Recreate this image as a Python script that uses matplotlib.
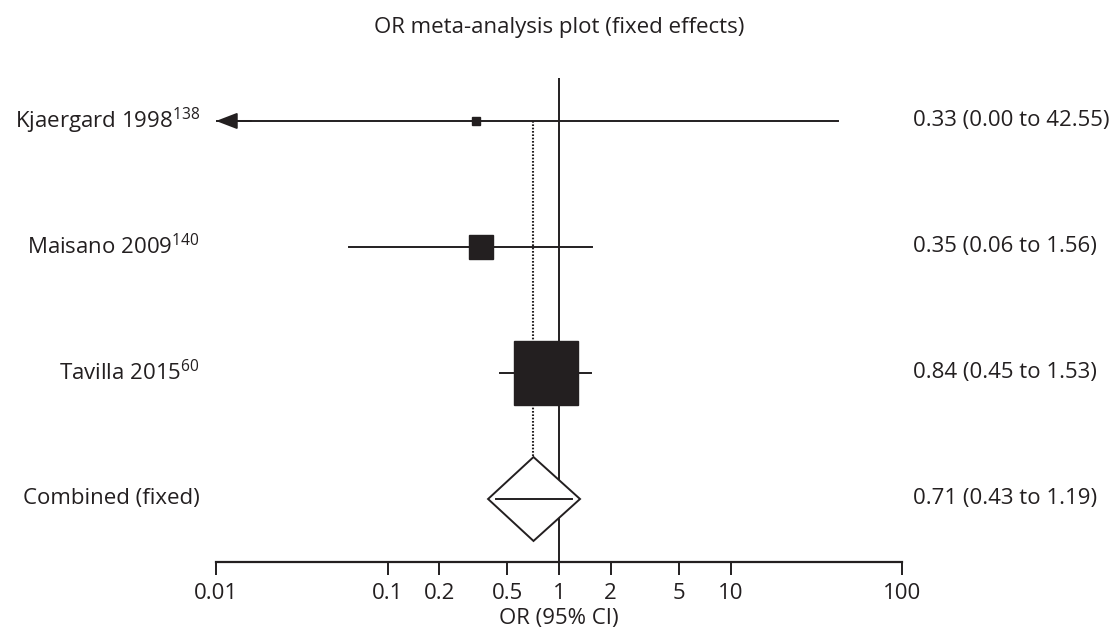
import matplotlib
matplotlib.use("Agg")
import matplotlib.pyplot as plt
import matplotlib.transforms as mtransforms
import numpy as np

plt.rcParams['font.family'] = ['Open Sans', 'DejaVu Sans']
plt.rcParams['mathtext.default'] = 'regular'

# study data
studies = ["Kjaergard 1998$^{138}$", "Maisano 2009$^{140}$", "Tavilla 2015$^{60}$"]
odds = [0.33, 0.35, 0.84]
lower = [0.00, 0.06, 0.45]
upper = [42.55, 1.56, 1.53]
box_px = [8, 24, 64]           # square size (weight)
combined_label = "Combined (fixed)"
combined = [0.71, 0.43, 1.19]
ticks = [0.01, 0.1, 0.2, 0.5, 1, 2, 5, 10, 100]
tick_labels = ["0.01", "0.1", "0.2", "0.5", "1", "2", "5", "10", "100"]

ink = '#231f20'
fs = 16
W, H = 1116, 637
fig = plt.figure(figsize=(W / 100, H / 100), dpi=100)
ax = fig.add_axes([216 / W, (H - 562) / H, (902 - 216) / W, (562 - 78) / H])
ax.set_xscale('log')
xmin, xmax = 0.01, 100
ax.set_xlim(xmin, xmax)
ax.set_ylim(0.5, 4.341)

rows = np.arange(len(studies) + 1, 1, -1)   # 4, 3, 2
y_comb = 1

# reference lines
ax.axvline(1, color=ink, lw=1.4, zorder=1)
ax.plot([combined[0], combined[0]], [rows[0], y_comb + 0.333], color=ink, lw=1.5,
        ls=(0, (0.8, 0.8)), zorder=1)

for y, est, lo, hi, s in zip(rows, odds, lower, upper, box_px):
    left = max(lo, xmin)
    ax.plot([left, hi], [y, y], color=ink, lw=1.4, zorder=2)
    if lo < xmin:
        ax.annotate('', xy=(xmin, y), xytext=(xmin * 1.6, y),
                    arrowprops=dict(arrowstyle='-|>,head_length=1.3,head_width=0.5',
                                    color=ink, lw=1.4, shrinkA=0, shrinkB=0), zorder=3)
    ax.plot(est, y, marker='s', ms=s * 0.72, color=ink, mec=ink, zorder=3)

# combined diamond (padded slightly in log space, as drawn in the original)
pad = 0.047
c_est, c_lo, c_hi = combined
dl = 10 ** (np.log10(c_lo) - pad)
dr = 10 ** (np.log10(c_hi) + pad)
half_h = 0.333
ax.fill([dl, c_est, dr, c_est, dl], [y_comb, y_comb + half_h, y_comb, y_comb - half_h, y_comb],
        facecolor='white', edgecolor=ink, lw=1.4, zorder=3)
ax.plot([c_lo, c_hi], [y_comb, y_comb], color=ink, lw=1.4, zorder=4)

# axis styling
for side in ['left', 'top', 'right']:
    ax.spines[side].set_visible(False)
ax.spines['bottom'].set_color(ink)
ax.spines['bottom'].set_linewidth(1.6)
ax.set_yticks([])
ax.set_xticks(ticks)
ax.set_xticklabels(tick_labels)
ax.xaxis.set_minor_locator(matplotlib.ticker.NullLocator())
ax.tick_params(axis='x', direction='out', length=9, width=1.4, color=ink,
               labelsize=fs, labelcolor=ink, pad=6)
ax.set_xlabel("OR (95% CI)", fontsize=fs, color=ink, labelpad=3)

# row labels and estimates
trans = mtransforms.blended_transform_factory(fig.transFigure, ax.transData)
labels = studies + [combined_label]
texts = ["%.2f (%.2f to %.2f)" % (e, l, h) for e, l, h in zip(odds, lower, upper)]
texts.append("%.2f (%.2f to %.2f)" % tuple(combined))
for y, lab, txt in zip(list(rows) + [y_comb], labels, texts):
    ax.text(200 / W, y, lab, transform=trans, ha='right', va='center',
            fontsize=fs, color=ink)
    ax.text(913 / W, y, txt, transform=trans, ha='left', va='center',
            fontsize=fs, color=ink)

fig.text(559 / W, 1 - 27 / H, "OR meta-analysis plot (fixed effects)", ha='center',
         va='center', fontsize=fs, color=ink)

fig.savefig("out.png", dpi=100)
